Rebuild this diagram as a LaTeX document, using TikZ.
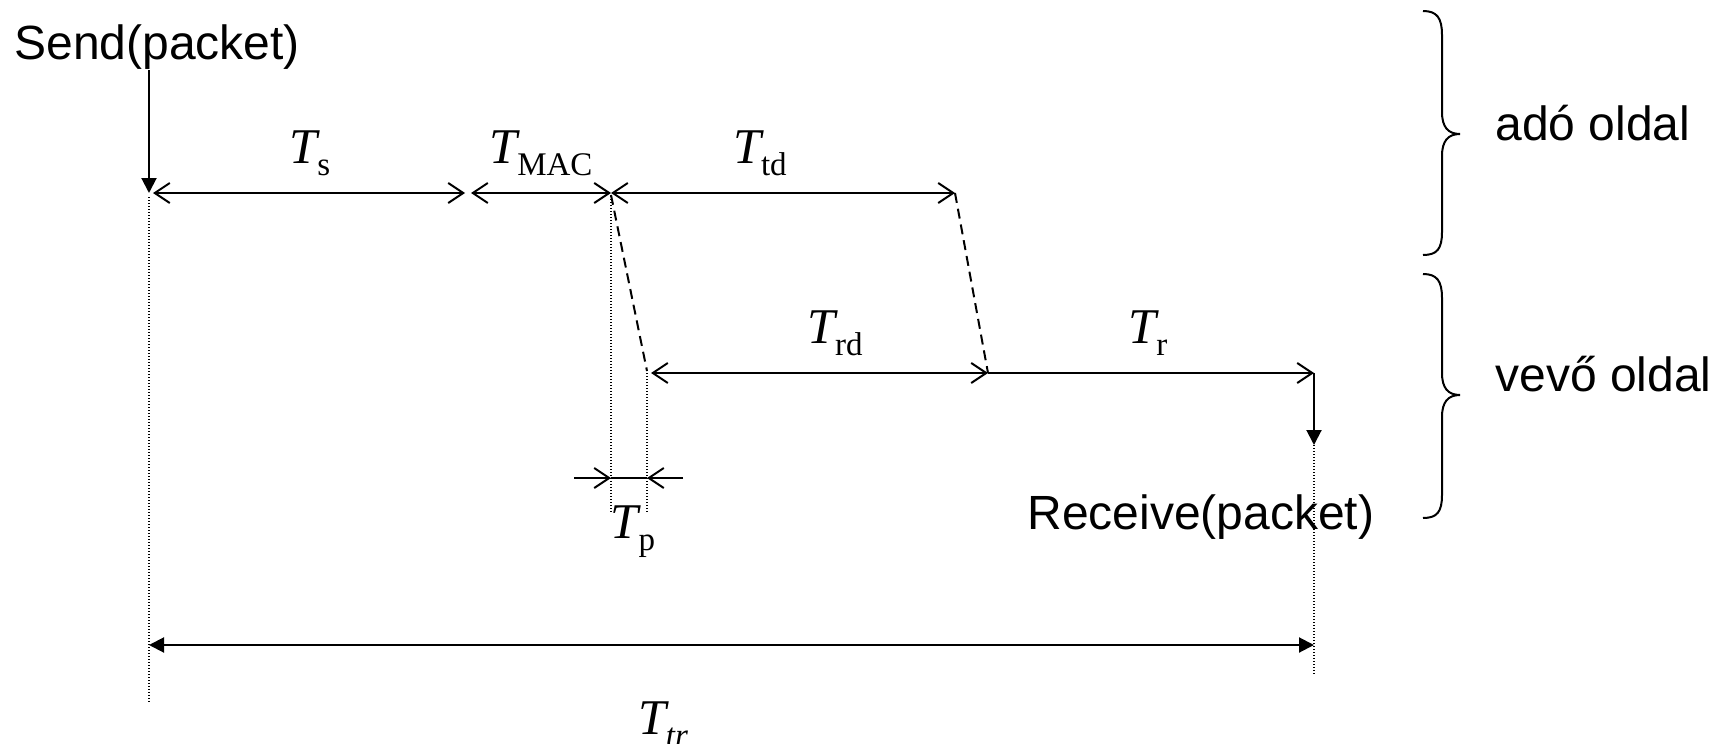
\documentclass[tikz,border=0pt]{standalone}
\usepackage{fontspec}
\usetikzlibrary{arrows.meta}
\newfontfamily\arialf{Liberation Sans}
\newfontfamily\timesf{Liberation Serif}
\newcommand{\tlab}[1]{{\timesf\fontsize{25}{25}\selectfont\itshape T}\raisebox{-6pt}{\timesf\fontsize{16.5}{16.5}\selectfont #1}}
\begin{document}
\begin{tikzpicture}[x=0.5pt,y=-0.5pt,
  dotline/.style={line width=0.65pt,dash pattern=on 0.65pt off 0.85pt},
  dashline/.style={line width=1pt,dash pattern=on 5pt off 3pt},
  barb/.style={line width=1pt,{Straight Barb[length=7.5pt,width=10pt]}-{Straight Barb[length=7.5pt,width=10pt]}},
  rbarb/.style={line width=1pt,-{Straight Barb[length=7.5pt,width=10pt]}},
  tri/.style={line width=1pt,-{Triangle[length=7.5pt,width=7.5pt]}},
  tritri/.style={line width=1pt,{Triangle[length=7.5pt,width=7.5pt]}-{Triangle[length=7.5pt,width=7.5pt]}},
  sans/.style={font=\arialf\fontsize{24}{24}\selectfont,inner sep=0pt},
  lab/.style={inner sep=0pt,anchor=base},
  bracel/.style={line width=1pt}]
\useasboundingbox (0,0) rectangle (1721,744);
% key points
\coordinate (s0) at (149,193);
\coordinate (s1) at (465,193);
\coordinate (m0) at (611,193);
\coordinate (t1) at (955,193);
\coordinate (p0) at (647,373);
\coordinate (x0) at (988,373);
\coordinate (r1) at (1314,373);
\coordinate (r2) at (1314,445);
\coordinate (sb) at (149,702);
\coordinate (rb) at (1314,675);
\coordinate (mb) at (611,513);
\coordinate (pb) at (647,513);
\coordinate (a0) at (149,645);
\coordinate (a1) at (1314,645);
\coordinate (q0) at (574,478);
\coordinate (q1) at (611,478);
\coordinate (q2) at (647,478);
\coordinate (q3) at (683,478);
% texts
\node[sans,anchor=base west] (send) at (14,60) {Send(packet)};
\node[sans,anchor=base west] (recv) at (1027,529) {Receive(packet)};
\node[sans,anchor=base west] (ado) at (1495,140) {adó oldal};
\node[sans,anchor=base west] (vevo) at (1495,391) {vevő oldal};
% send arrow
\draw[tri] (send.south -| s0) -- (s0);
% top timeline
\draw[barb] ([xshift=2pt]s0) -- (s1);
\draw[barb] ([xshift=3pt]s1) -- (m0);
\draw[barb] (m0) -- (t1);
% dashed propagation
\draw[dashline] ([yshift=-1pt]m0) -- ([yshift=1pt]p0);
\draw[dashline] (t1) -- (x0);
% bottom timeline
\draw[barb] ([xshift=2pt]p0) -- (x0);
\draw[rbarb] (x0) -- (r1);
\draw[tri] (r1) -- (r2);
% dotted verticals
\draw[dotline] ([yshift=-2pt]s0) -- (sb);
\draw[dotline] (r2) -- (rb);
\draw[dotline] ([yshift=-1.5pt]m0) -- (mb);
\draw[dotline] (p0) -- (pb);
% Tp
\draw[rbarb] (q0) -- (q1);
\draw[line width=1pt] (q1) -- (q2);
\draw[rbarb] (q3) -- (q2);
% Ttr
\draw[tritri] (a0) -- (a1);
% labels
\node[lab] (ls) at (310,163) {\tlab{s}};
\node[lab] (lmac) at (541,163) {\tlab{MAC}};
\node[lab] (ltd) at (760,163) {\tlab{td}};
\node[lab] (lrd) at (835,343) {\tlab{rd}};
\node[lab] (lr) at (1148,343) {\tlab{r}};
\node[lab] (lp) at (633,538) {\tlab{p}};
\node[lab] (ltr) at (663,734) {{\timesf\fontsize{25}{25}\selectfont\itshape T}\raisebox{-6pt}{\timesf\itshape\fontsize{16.5}{16.5}\selectfont tr}};
% braces
\draw[bracel] (1423,11) .. controls (1437,11) and (1442,18) .. (1442,35) -- (1442,112)
  .. controls (1442,127) and (1448,134) .. (1460,134)
  .. controls (1448,134) and (1442,141) .. (1442,156) -- (1442,232)
  .. controls (1442,249) and (1437,255) .. (1423,255);
\draw[bracel] (1423,274) .. controls (1437,274) and (1442,281) .. (1442,298) -- (1442,373)
  .. controls (1442,388) and (1448,395) .. (1460,395)
  .. controls (1448,395) and (1442,402) .. (1442,417) -- (1442,495)
  .. controls (1442,512) and (1437,518) .. (1423,518);
\end{tikzpicture}
\end{document}
